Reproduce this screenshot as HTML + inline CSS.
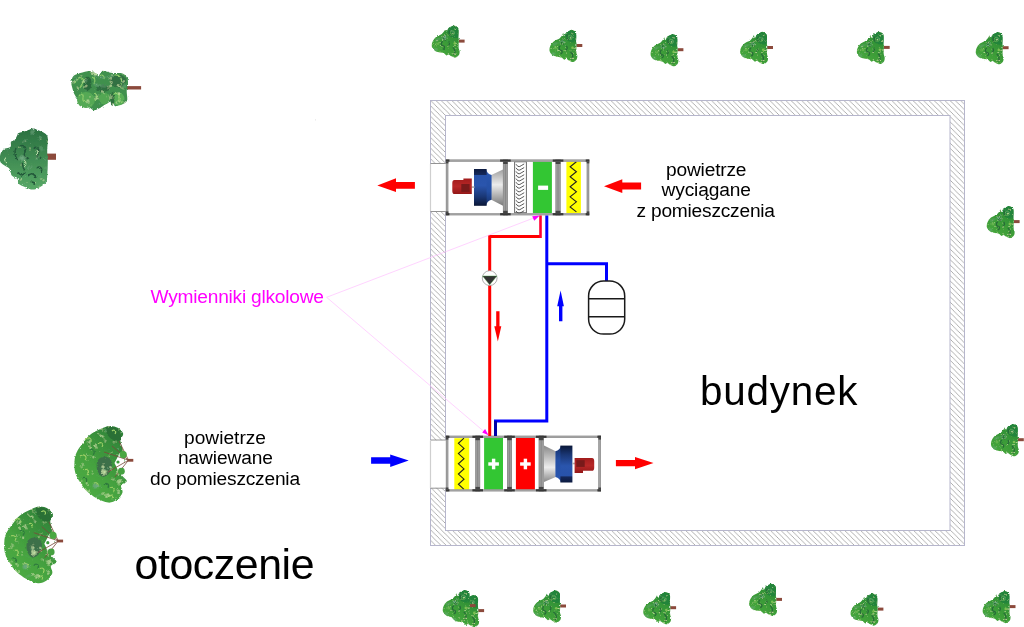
<!DOCTYPE html>
<html><head><meta charset="utf-8">
<style>
html,body{margin:0;padding:0;background:#fff;overflow:hidden;width:1024px;height:627px}
svg{display:block;opacity:0.999}
text{font-family:"Liberation Sans",sans-serif}
</style></head>
<body>
<domain style="display:none">Diagram</domain>
<svg width="1024" height="627" viewBox="0 0 1024 627">
<defs>
<pattern id="hatch" patternUnits="userSpaceOnUse" width="5.3" height="5.3" x="1.5" y="0">
<path d="M-1,-1 L6.3,6.3 M-1,4.3 L1,6.3 M4.3,-1 L6.3,1" stroke="#9c9c9c" stroke-width="0.8"/>
</pattern>
<linearGradient id="neck1" x1="0" y1="0" x2="0" y2="1"><stop offset="0" stop-color="#2a56b0"/><stop offset="0.6" stop-color="#2550a5"/><stop offset="1" stop-color="#15306a"/></linearGradient>
<linearGradient id="neck2" x1="0" y1="0" x2="0" y2="1"><stop offset="0" stop-color="#15306a"/><stop offset="0.4" stop-color="#2550a5"/><stop offset="1" stop-color="#2a56b0"/></linearGradient>
<linearGradient id="cone" x1="0" y1="0" x2="0" y2="1">
<stop offset="0" stop-color="#a0a0a0"/><stop offset="0.42" stop-color="#ececec"/><stop offset="1" stop-color="#7a7a7a"/>
</linearGradient>
<linearGradient id="cone2" x1="0" y1="0" x2="0" y2="1">
<stop offset="0" stop-color="#8a8a8a"/><stop offset="0.6" stop-color="#ececec"/><stop offset="1" stop-color="#8a8a8a"/>
</linearGradient>
<linearGradient id="fanblue" x1="0" y1="0" x2="0" y2="1">
<stop offset="0" stop-color="#0c1a40"/><stop offset="0.155" stop-color="#15295a"/><stop offset="0.175" stop-color="#2853aa"/><stop offset="0.45" stop-color="#2a55ad"/><stop offset="0.75" stop-color="#1a3775"/><stop offset="1" stop-color="#0a1737"/>
</linearGradient>
<linearGradient id="fanblue2" x1="0" y1="0" x2="0" y2="1">
<stop offset="0" stop-color="#0a1737"/><stop offset="0.25" stop-color="#1a3775"/><stop offset="0.55" stop-color="#2a55ad"/><stop offset="0.825" stop-color="#2853aa"/><stop offset="0.845" stop-color="#15295a"/><stop offset="1" stop-color="#0c1a40"/>
</linearGradient>
<linearGradient id="motor" x1="0" y1="0" x2="0" y2="1">
<stop offset="0" stop-color="#a11c1c"/><stop offset="0.5" stop-color="#b82828"/><stop offset="1" stop-color="#941818"/>
</linearGradient>
<filter id="rough" x="-15%" y="-15%" width="130%" height="130%">
 <feTurbulence type="turbulence" baseFrequency="0.13" numOctaves="2" seed="7" result="n"/>
 <feColorMatrix in="n" type="matrix" values="0 0 0 0 0.62  0 0 0 0 0.83  0 0 0 0 0.42  2.6 0 0 0 -0.95" result="hl"/>
 <feComposite in="hl" in2="SourceAlpha" operator="in" result="hl2"/>
 <feTurbulence type="turbulence" baseFrequency="0.11" numOctaves="1" seed="11" result="m"/>
 <feColorMatrix in="m" type="matrix" values="0 0 0 0 0.16  0 0 0 0 0.40  0 0 0 0 0.22  3 0 0 0 -1.1" result="dk"/>
 <feComposite in="dk" in2="SourceAlpha" operator="in" result="dk2"/>
 <feMerge result="mg"><feMergeNode in="SourceGraphic"/><feMergeNode in="dk2"/><feMergeNode in="hl2"/></feMerge>
 <feTurbulence type="fractalNoise" baseFrequency="0.7" numOctaves="2" seed="4" result="n2"/>
 <feDisplacementMap in="mg" in2="n2" scale="2.6" xChannelSelector="R" yChannelSelector="G"/>
</filter>
<filter id="rough3" x="-15%" y="-15%" width="130%" height="130%">
 <feTurbulence type="turbulence" baseFrequency="0.4" numOctaves="2" seed="5" result="n"/>
 <feColorMatrix in="n" type="matrix" values="0 0 0 0 0.56  0 0 0 0 0.78  0 0 0 0 0.34  2.4 0 0 0 -0.98" result="hl"/>
 <feComposite in="hl" in2="SourceAlpha" operator="in" result="hl2"/>
 <feTurbulence type="turbulence" baseFrequency="0.11" numOctaves="1" seed="11" result="m"/>
 <feColorMatrix in="m" type="matrix" values="0 0 0 0 0.16  0 0 0 0 0.40  0 0 0 0 0.22  3 0 0 0 -1.1" result="dk"/>
 <feComposite in="dk" in2="SourceAlpha" operator="in" result="dk2"/>
 <feMerge result="mg"><feMergeNode in="SourceGraphic"/><feMergeNode in="dk2"/><feMergeNode in="hl2"/></feMerge>
 <feTurbulence type="fractalNoise" baseFrequency="0.7" numOctaves="2" seed="4" result="n2"/>
 <feDisplacementMap in="mg" in2="n2" scale="2.2" xChannelSelector="R" yChannelSelector="G"/>
</filter>
<filter id="rough2" x="-15%" y="-15%" width="130%" height="130%">
 <feTurbulence type="turbulence" baseFrequency="0.13" numOctaves="2" seed="9" result="n"/>
 <feColorMatrix in="n" type="matrix" values="0 0 0 0 0.62  0 0 0 0 0.83  0 0 0 0 0.42  2.2 0 0 0 -1.05" result="hl"/>
 <feComposite in="hl" in2="SourceAlpha" operator="in" result="hl2"/>
 <feTurbulence type="turbulence" baseFrequency="0.11" numOctaves="1" seed="11" result="m"/>
 <feColorMatrix in="m" type="matrix" values="0 0 0 0 0.16  0 0 0 0 0.40  0 0 0 0 0.22  3 0 0 0 -1.1" result="dk"/>
 <feComposite in="dk" in2="SourceAlpha" operator="in" result="dk2"/>
 <feMerge result="mg"><feMergeNode in="SourceGraphic"/><feMergeNode in="dk2"/><feMergeNode in="hl2"/></feMerge>
 <feTurbulence type="fractalNoise" baseFrequency="0.7" numOctaves="2" seed="4" result="n2"/>
 <feDisplacementMap in="mg" in2="n2" scale="2.6" xChannelSelector="R" yChannelSelector="G"/>
</filter>
<linearGradient id="gS" x1="0.8" y1="0" x2="0.2" y2="1"><stop offset="0" stop-color="#2a8a34"/><stop offset="1" stop-color="#4aaa3c"/></linearGradient>
</defs>

<defs><g id="treeS">
<rect x="27" y="14.2" width="5.8" height="3" fill="#8c4a3c"/>
<g filter="url(#rough3)"><path d="M22.00,0.00 C23.07,0.00 24.70,0.92 25.50,1.60 C26.30,2.28 26.63,2.50 26.80,4.10 C26.97,5.70 26.45,9.48 26.50,11.20 C26.55,12.92 27.05,12.60 27.10,14.40 C27.15,16.20 26.68,20.10 26.80,22.00 C26.92,23.90 27.75,24.52 27.80,25.80 C27.85,27.08 27.80,28.63 27.10,29.70 C26.40,30.77 24.82,32.00 23.60,32.20 C22.38,32.40 20.97,31.43 19.80,30.90 C18.63,30.37 17.45,29.15 16.60,29.00 C15.75,28.85 15.45,30.20 14.70,30.00 C13.95,29.80 13.17,28.28 12.10,27.80 C11.03,27.32 9.68,27.43 8.30,27.10 C6.92,26.77 5.08,26.53 3.80,25.80 C2.52,25.07 1.23,23.83 0.60,22.70 C-0.03,21.57 -0.15,20.32 0.00,19.00 C0.15,17.68 0.80,16.03 1.50,14.80 C2.20,13.57 3.25,12.40 4.20,11.60 C5.15,10.80 6.23,10.50 7.20,10.00 C8.17,9.50 9.12,9.33 10.00,8.60 C10.88,7.87 11.88,6.45 12.50,5.60 C13.12,4.75 13.33,3.40 13.70,3.50 C14.07,3.60 14.22,6.30 14.70,6.20 C15.18,6.10 15.87,3.67 16.60,2.90 C17.33,2.13 18.20,2.08 19.10,1.60 C20.00,1.12 20.93,0.00 22.00,0.00 Z" fill="url(#gS)"/>
<path d="M16.4,3.4 C18,1 22,-0.2 25,1.4 C27,3 26.8,8 26.5,12 C24,13.5 20,12.5 17.5,10 C16,8 15.5,5.5 16.4,3.4 Z" fill="#23843a"/>
<circle cx="20.5" cy="7.5" r="2.2" fill="none" stroke="#58a850" stroke-width="1"/>
<path d="M13,10 C11,12 12,14 14,15 M11,16 C9,17 9,20 11.5,20.5 C13.5,21 13,23.5 11,24 M21,22 C23,24 24,27 22,29.5 M18,5 C17,7 17.5,9 19,10 M17,16 C18.5,18 17.5,20 16,20" fill="none" stroke="#286a38" stroke-width="1.2"/>
<circle cx="6" cy="18" r="1.6" fill="#62b24c"/>
<circle cx="23" cy="18" r="1.3" fill="#7cc052"/>
</g></g></defs>
<use href="#treeS" x="431.8" y="25.4"/>
<use href="#treeS" x="549.5" y="29.8"/>
<use href="#treeS" x="650.6" y="34.0"/>
<use href="#treeS" x="740.2" y="31.8"/>
<use href="#treeS" x="856.9" y="31.7"/>
<use href="#treeS" x="975.8" y="32.0"/>
<use href="#treeS" x="986.8" y="205.9"/>
<use href="#treeS" x="991.0" y="424.0"/>
<use href="#treeS" x="451.3" y="594.9"/>
<use href="#treeS" x="442.8" y="589.9"/>
<use href="#treeS" x="533.2" y="590.3"/>
<use href="#treeS" x="643.3" y="592.0"/>
<use href="#treeS" x="749.2" y="583.7"/>
<use href="#treeS" x="850.6" y="593.4"/>
<use href="#treeS" x="982.7" y="590.9"/>
<rect x="127.00" y="86.10" width="14.10" height="3.40" fill="#8c4a3c" />
<g filter="url(#rough)">
<path d="M71.30,82.30 C71.52,80.40 72.02,77.55 73.50,76.00 C74.98,74.45 77.53,73.85 80.20,73.00 C82.87,72.15 86.97,70.90 89.50,70.90 C92.03,70.90 93.85,72.30 95.40,73.00 C96.95,73.70 97.67,75.45 98.80,75.10 C99.93,74.75 100.78,71.47 102.20,70.90 C103.62,70.33 105.60,71.35 107.30,71.70 C109.00,72.05 109.87,72.72 112.40,73.00 C114.93,73.28 120.03,72.55 122.50,73.40 C124.97,74.25 126.28,76.20 127.20,78.10 C128.12,80.00 128.08,82.68 128.00,84.80 C127.92,86.92 126.83,88.27 126.70,90.80 C126.57,93.33 127.62,97.90 127.20,100.00 C126.78,102.10 125.55,102.55 124.20,103.40 C122.85,104.25 120.65,104.67 119.10,105.10 C117.55,105.53 116.02,106.70 114.90,106.00 C113.78,105.30 113.95,101.18 112.40,100.90 C110.85,100.62 107.58,103.17 105.60,104.30 C103.62,105.43 102.47,106.72 100.50,107.70 C98.53,108.68 95.77,110.35 93.80,110.20 C91.83,110.05 90.68,107.93 88.70,106.80 C86.72,105.67 83.73,104.67 81.90,103.40 C80.07,102.13 78.97,100.75 77.70,99.20 C76.43,97.65 75.22,96.07 74.30,94.10 C73.38,92.13 72.70,89.37 72.20,87.40 C71.70,85.43 71.08,84.20 71.30,82.30 Z" fill="#3f904d"/>
<ellipse cx="86" cy="100" rx="9" ry="8" fill="#55a955"/>
<ellipse cx="104" cy="98.5" rx="5.5" ry="6" fill="#52a753"/>
<ellipse cx="118.5" cy="99" rx="6" ry="6.5" fill="#58ae57"/>
<ellipse cx="87.5" cy="83.5" rx="4" ry="7" fill="#2b6b3c"/>
<ellipse cx="103" cy="88.5" rx="7" ry="3.2" fill="#2f6f3f"/>
<ellipse cx="118" cy="81" rx="8" ry="6.5" fill="#336f42"/>
<ellipse cx="112.5" cy="99" rx="2" ry="7" fill="#2f6e3e"/>
<path d="M75,84 C76,78 80,76 83,79 C85,82 81,84 80,88 M92,78 C94,75 96,79 94,84 M79,96 C81,93 84,94 83,98 C82,102 86,103 88,100 M95,93 C97,95 97,99 95,101 M114,75 C119,74 123,78 121,84 M114,94 C116,92 120,94 119,98 C118,102 121,104 123,101 M100,76 C102,74 105,76 104,79" fill="none" stroke="#8fcd6c" stroke-width="1.1"/>
</g>
<rect x="47.00" y="153.60" width="9.00" height="6.20" fill="#8c4a3c" />
<linearGradient id="gB" x1="0" y1="0" x2="0" y2="1"><stop offset="0" stop-color="#2a7040"/><stop offset="1" stop-color="#57a866"/></linearGradient>
<g filter="url(#rough2)">
<path d="M18.60,133.10 C20.15,132.42 24.47,131.48 26.80,130.70 C29.13,129.92 30.67,128.48 32.60,128.40 C34.53,128.32 36.27,129.32 38.40,130.20 C40.53,131.08 43.83,132.35 45.40,133.70 C46.97,135.05 47.50,135.40 47.80,138.30 C48.10,141.20 47.20,147.42 47.20,151.10 C47.20,154.78 47.80,156.12 47.80,160.40 C47.80,164.68 47.50,173.10 47.20,176.80 C46.90,180.50 47.27,180.87 46.00,182.60 C44.73,184.33 41.83,186.03 39.60,187.20 C37.37,188.37 34.93,189.60 32.60,189.60 C30.27,189.60 27.93,188.18 25.60,187.20 C23.27,186.22 19.95,185.05 18.60,183.70 C17.25,182.35 18.65,180.45 17.50,179.10 C16.35,177.75 13.07,177.35 11.70,175.60 C10.33,173.85 10.87,170.55 9.30,168.60 C7.73,166.65 3.85,165.27 2.30,163.90 C0.75,162.53 0.28,162.13 0.00,160.40 C-0.28,158.67 -0.18,155.43 0.60,153.50 C1.38,151.57 3.05,149.88 4.70,148.80 C6.35,147.72 9.43,148.17 10.50,147.00 C11.57,145.83 10.33,143.05 11.10,141.80 C11.87,140.55 14.03,140.67 15.10,139.50 C16.17,138.33 16.92,135.87 17.50,134.80 C18.08,133.73 17.05,133.78 18.60,133.10 Z" fill="url(#gB)"/>
<path d="M16,148 C14,152 15,158 18,160 M20,146 C24,144 27,148 25,152 C23,156 26,160 29,158 M34,148 C37,146 40,150 38,154 C36,158 39,160 41,157 M18,172 C20,176 24,176 25,172 M28,176 C31,172 35,174 36,178 M37,168 C40,165 43,169 41,172 M22,163 C24,166 22,169 25,170 M31,183 C33,181 35,183 34,185" fill="none" stroke="#23583a" stroke-width="1.5"/>
<path d="M5,157 C4,160 5,162 7,163 M24,160 C27,162 26,166 24,167 M37,150 C38,152 38,154 36,155" fill="none" stroke="#c8e8b0" stroke-width="1"/>
</g>
<defs><linearGradient id="gC" x1="0.9" y1="0" x2="0.2" y2="1"><stop offset="0" stop-color="#2c7c37"/><stop offset="0.6" stop-color="#45a23f"/><stop offset="1" stop-color="#4fae45"/></linearGradient><g id="treeC">
<rect x="127.5" y="458.9" width="5.8" height="2.8" fill="#8c4a3c"/>
<g filter="url(#rough)"><path d="M109.60,425.90 C112.47,425.77 115.93,426.68 118.20,428.00 C120.47,429.32 122.82,431.80 123.20,433.80 C123.58,435.80 120.70,437.80 120.50,440.00 C120.30,442.20 121.42,444.83 122.00,447.00 C122.58,449.17 123.50,450.83 124.00,453.00 C124.50,455.17 125.17,457.67 125.00,460.00 C124.83,462.33 123.67,464.67 123.00,467.00 C122.33,469.33 120.37,471.65 121.00,474.00 C121.63,476.35 126.78,479.20 126.80,481.10 C126.82,483.00 121.82,483.48 121.10,485.40 C120.38,487.32 123.22,490.20 122.50,492.60 C121.78,495.00 119.18,498.13 116.80,499.80 C114.42,501.47 111.55,502.85 108.20,502.60 C104.85,502.35 100.30,500.22 96.70,498.30 C93.10,496.38 89.35,493.73 86.60,491.10 C83.85,488.47 82.10,485.60 80.20,482.50 C78.30,479.40 76.15,476.08 75.20,472.50 C74.25,468.92 74.27,464.35 74.50,461.00 C74.73,457.65 75.30,455.27 76.60,452.40 C77.90,449.53 80.15,446.67 82.30,443.80 C84.45,440.93 86.38,437.70 89.50,435.20 C92.62,432.70 97.65,430.35 101.00,428.80 C104.35,427.25 106.73,426.03 109.60,425.90 Z" fill="url(#gC)"/>
<path d="M106,427 C114,425 122,430 121,439 C118,443 110,440 107,434 Z" fill="#2a7035"/>
<path d="M85,440 C88,436 92,438 91,442 M80,456 C84,453 88,457 85,460 M84,470 C88,468 90,472 87,475 M93,484 C96,481 100,484 97,488 M110,488 C113,486 116,489 113,492 M98,444 C101,441 104,444 102,447 M109,496 C112,494 114,497 112,499 M112,431 C114,429 117,431 115,434" fill="none" stroke="#9ccf66" stroke-width="1.1"/>
<path d="M90,450 C93,448 96,452 93,455 M104,485 C106,482 110,484 108,488 M82,478 C85,476 88,479 86,482" fill="none" stroke="#2e7a3e" stroke-width="1.2"/>
<path d="M98,460 C102,455 110,456 112,462 C113,469 109,476 103,477 C97,475 95,465 98,460 Z" fill="#3d7049"/>
</g>
<path d="M114.5,463 L120,452.5 L124.5,456 L124.5,467 L120,474 Z" fill="#fff"/>
<path d="M104,452 L128.5,460.2 M112,446 L128.5,460.2 M119,441 L128.5,460.2 M108,472 L128.5,460.2 M115,477 L128.5,460.2" stroke="#7a4a3a" stroke-width="0.8"/>
<circle cx="123.2" cy="454.6" r="3.6" fill="#4aa842"/>
<circle cx="121.4" cy="471.2" r="3.4" fill="#45a040"/>
<circle cx="118" cy="462" r="1.6" fill="#3f9a3c"/>
</g></defs>
<use href="#treeC" x="0" y="0"/>
<use href="#treeC" x="-70.2" y="80.7"/>
<path d="M430.5,100.5 H964.5 V545.5 H430.5 Z M445.5,115.5 V530.5 H950 V115.5 Z" fill="url(#hatch)" fill-rule="evenodd"/>
<rect x="430.5" y="100.5" width="534" height="445" fill="none" stroke="#b6b6cc" stroke-width="1"/>
<rect x="445.5" y="115.5" width="504.5" height="415" fill="none" stroke="#b6b6cc" stroke-width="1"/>
<rect x="429.80" y="163.80" width="16.20" height="47.40" fill="#fff" />
<rect x="429.80" y="440.20" width="16.20" height="47.60" fill="#fff" />
<path d="M430.5,163.5 H446 M430.5,211.5 H446 M430.5,440 H446 M430.5,488.2 H446" stroke="#888" stroke-width="0.9"/>
<path d="M430.5,164 V211 M430.5,440.5 V488" stroke="#cfcfcf" stroke-width="1.2"/>
<rect x="445.80" y="159.40" width="143.50" height="56.00" fill="#fff" />
<rect x="514.60" y="161.80" width="11.80" height="50.90" fill="#fff" stroke="#6a6a6a" stroke-width="1"/>
<path d="M516,164.20 Q517.8,167.50 519.8,166.50 Q521.6,165.40 524.2,163.90 M516,167.80 Q517.8,171.10 519.8,170.10 Q521.6,169.00 524.2,167.50 M516,171.40 Q517.8,174.70 519.8,173.70 Q521.6,172.60 524.2,171.10 M516,175.00 Q517.8,178.30 519.8,177.30 Q521.6,176.20 524.2,174.70 M516,178.60 Q517.8,181.90 519.8,180.90 Q521.6,179.80 524.2,178.30 M516,182.20 Q517.8,185.50 519.8,184.50 Q521.6,183.40 524.2,181.90 M516,185.80 Q517.8,189.10 519.8,188.10 Q521.6,187.00 524.2,185.50 M516,189.40 Q517.8,192.70 519.8,191.70 Q521.6,190.60 524.2,189.10 M516,193.00 Q517.8,196.30 519.8,195.30 Q521.6,194.20 524.2,192.70 M516,196.60 Q517.8,199.90 519.8,198.90 Q521.6,197.80 524.2,196.30 M516,200.20 Q517.8,203.50 519.8,202.50 Q521.6,201.40 524.2,199.90 M516,203.80 Q517.8,207.10 519.8,206.10 Q521.6,205.00 524.2,203.50 M516,207.40 Q517.8,210.70 519.8,209.70 Q521.6,208.60 524.2,207.10 M516,211.00 Q517.8,214.30 519.8,213.30 Q521.6,212.20 524.2,210.70" fill="none" stroke="#3a3a3a" stroke-width="0.85"/>
<rect x="532.90" y="161.70" width="19.00" height="51.40" fill="#33c633" />
<rect x="538.10" y="185.60" width="10.00" height="4.30" fill="#fff" />
<rect x="566.40" y="161.70" width="14.50" height="51.40" fill="#ffff00" />
<polyline points="576.40,161.70 570.10,166.72 576.40,171.74 570.10,176.76 576.40,181.78 570.10,186.80 576.40,191.82 570.10,196.84 576.40,201.86 570.10,206.88 576.40,211.90" fill="none" stroke="#222" stroke-width="1.1" stroke-linejoin="miter"/>
<path d="M491.3,175 L503,169.5 L503,205.8 L491.3,199.7 Z" fill="url(#cone)"/>
<path d="M486,169 Q487,174 491.6,175 L491.6,199.7 Q487,200.8 486,205.8 Z" fill="url(#neck1)"/>
<rect x="474.00" y="169.00" width="12.60" height="36.80" fill="url(#fanblue)" />
<rect x="471.50" y="186.30" width="3.00" height="1.60" fill="#aaaaaa" />
<path d="M454.5,180.1 L463.4,180.1 L463.4,178.4 L471.8,178.4 L471.8,194.1 L454.5,194.1 Q452.3,194.1 452.3,191 L452.3,183.2 Q452.3,180.1 454.5,180.1 Z" fill="url(#motor)"/>
<rect x="461.30" y="184.00" width="8.30" height="7.90" fill="#781a1a" />
<rect x="445.80" y="159.40" width="143.50" height="2.40" fill="#919191" />
<rect x="445.80" y="160.24" width="143.50" height="0.72" fill="#aaaaaa" />
<rect x="445.80" y="213.20" width="143.50" height="2.20" fill="#919191" />
<rect x="445.80" y="213.97" width="143.50" height="0.66" fill="#aaaaaa" />
<rect x="445.80" y="159.40" width="2.60" height="56.00" fill="#919191" />
<rect x="446.71" y="159.40" width="0.78" height="56.00" fill="#aaaaaa" />
<rect x="586.60" y="159.40" width="2.70" height="56.00" fill="#919191" />
<rect x="587.55" y="159.40" width="0.81" height="56.00" fill="#aaaaaa" />
<rect x="502.90" y="159.40" width="5.00" height="56.00" fill="#858585" />
<rect x="503.40" y="159.40" width="1.60" height="56.00" fill="#9c9c9c" />
<rect x="505.80" y="159.40" width="1.60" height="56.00" fill="#9c9c9c" />
<rect x="555.40" y="159.40" width="5.30" height="56.00" fill="#858585" />
<rect x="555.90" y="159.40" width="1.75" height="56.00" fill="#9c9c9c" />
<rect x="558.45" y="159.40" width="1.75" height="56.00" fill="#9c9c9c" />
<rect x="445.80" y="159.50" width="3.60" height="2.20" fill="#383838" />
<rect x="445.80" y="161.60" width="2.60" height="1.80" fill="#444" />
<rect x="445.80" y="213.10" width="3.60" height="2.20" fill="#383838" />
<rect x="445.80" y="211.40" width="2.60" height="1.80" fill="#444" />
<rect x="585.70" y="159.50" width="3.60" height="2.20" fill="#383838" />
<rect x="586.70" y="161.60" width="2.60" height="1.80" fill="#444" />
<rect x="585.70" y="213.10" width="3.60" height="2.20" fill="#383838" />
<rect x="586.70" y="211.40" width="2.60" height="1.80" fill="#444" />
<rect x="500.10" y="159.50" width="10.60" height="2.20" fill="#383838" />
<rect x="503.20" y="161.60" width="4.40" height="2.40" fill="#444" />
<rect x="500.10" y="213.10" width="10.60" height="2.20" fill="#383838" />
<rect x="503.20" y="210.80" width="4.40" height="2.40" fill="#444" />
<rect x="552.75" y="159.50" width="10.60" height="2.20" fill="#383838" />
<rect x="555.70" y="161.60" width="4.70" height="2.40" fill="#444" />
<rect x="552.75" y="213.10" width="10.60" height="2.20" fill="#383838" />
<rect x="555.70" y="210.80" width="4.70" height="2.40" fill="#444" />
<rect x="445.80" y="435.60" width="155.00" height="55.90" fill="#fff" />
<rect x="454.30" y="438.20" width="14.90" height="51.50" fill="#ffff00" />
<polyline points="464.00,438.20 458.40,443.32 464.00,448.44 458.40,453.56 464.00,458.68 458.40,463.80 464.00,468.92 458.40,474.04 464.00,479.16 458.40,484.28 464.00,489.40" fill="none" stroke="#222" stroke-width="1.1" stroke-linejoin="miter"/>
<rect x="484.10" y="438.00" width="18.90" height="51.70" fill="#33c633" />
<rect x="488.30" y="462.30" width="10.60" height="3.40" fill="#fff" />
<rect x="491.90" y="458.70" width="3.40" height="10.60" fill="#fff" />
<rect x="515.90" y="438.00" width="19.00" height="51.70" fill="#ff0000" />
<rect x="520.10" y="462.30" width="10.60" height="3.40" fill="#fff" />
<rect x="523.70" y="458.70" width="3.40" height="10.60" fill="#fff" />
<path d="M544,445.6 L555.7,451.2 L555.7,476.9 L544,481.9 Z" fill="url(#cone2)"/>
<path d="M561,445.6 Q560,450.2 555.4,451.2 L555.4,476.9 Q560,478 561,482.5 Z" fill="url(#neck2)"/>
<rect x="560.40" y="445.60" width="12.00" height="36.90" fill="url(#fanblue2)" />
<rect x="572.20" y="462.70" width="3.00" height="1.60" fill="#aaaaaa" />
<path d="M574.6,457.9 L592,457.9 Q594.2,457.9 594.2,461 L594.2,467.7 Q594.2,470.8 592,470.8 L583,470.8 L583,473 L574.6,473 Z" fill="url(#motor)"/>
<rect x="576.30" y="460.20" width="8.40" height="6.70" fill="#781a1a" />
<rect x="445.80" y="435.60" width="155.20" height="2.30" fill="#919191" />
<rect x="445.80" y="436.41" width="155.20" height="0.69" fill="#aaaaaa" />
<rect x="445.80" y="489.30" width="155.20" height="2.20" fill="#919191" />
<rect x="445.80" y="490.07" width="155.20" height="0.66" fill="#aaaaaa" />
<rect x="445.80" y="435.60" width="2.60" height="55.90" fill="#919191" />
<rect x="446.71" y="435.60" width="0.78" height="55.90" fill="#aaaaaa" />
<rect x="598.20" y="435.60" width="2.70" height="55.90" fill="#919191" />
<rect x="599.15" y="435.60" width="0.81" height="55.90" fill="#aaaaaa" />
<rect x="475.20" y="435.60" width="5.00" height="55.90" fill="#858585" />
<rect x="475.70" y="435.60" width="1.60" height="55.90" fill="#9c9c9c" />
<rect x="478.10" y="435.60" width="1.60" height="55.90" fill="#9c9c9c" />
<rect x="507.00" y="435.60" width="5.00" height="55.90" fill="#858585" />
<rect x="507.50" y="435.60" width="1.60" height="55.90" fill="#9c9c9c" />
<rect x="509.90" y="435.60" width="1.60" height="55.90" fill="#9c9c9c" />
<rect x="538.60" y="435.60" width="5.20" height="55.90" fill="#858585" />
<rect x="539.10" y="435.60" width="1.70" height="55.90" fill="#9c9c9c" />
<rect x="541.60" y="435.60" width="1.70" height="55.90" fill="#9c9c9c" />
<rect x="445.80" y="435.70" width="3.60" height="2.20" fill="#383838" />
<rect x="445.80" y="437.80" width="2.60" height="1.80" fill="#444" />
<rect x="445.80" y="489.20" width="3.60" height="2.20" fill="#383838" />
<rect x="445.80" y="487.50" width="2.60" height="1.80" fill="#444" />
<rect x="597.40" y="435.70" width="3.60" height="2.20" fill="#383838" />
<rect x="598.40" y="437.80" width="2.60" height="1.80" fill="#444" />
<rect x="597.40" y="489.20" width="3.60" height="2.20" fill="#383838" />
<rect x="598.40" y="487.50" width="2.60" height="1.80" fill="#444" />
<rect x="472.40" y="435.70" width="10.60" height="2.20" fill="#383838" />
<rect x="475.50" y="437.80" width="4.40" height="2.40" fill="#444" />
<rect x="472.40" y="489.20" width="10.60" height="2.20" fill="#383838" />
<rect x="475.50" y="486.90" width="4.40" height="2.40" fill="#444" />
<rect x="504.20" y="435.70" width="10.60" height="2.20" fill="#383838" />
<rect x="507.30" y="437.80" width="4.40" height="2.40" fill="#444" />
<rect x="504.20" y="489.20" width="10.60" height="2.20" fill="#383838" />
<rect x="507.30" y="486.90" width="4.40" height="2.40" fill="#444" />
<rect x="535.90" y="435.70" width="10.60" height="2.20" fill="#383838" />
<rect x="538.90" y="437.80" width="4.60" height="2.40" fill="#444" />
<rect x="535.90" y="489.20" width="10.60" height="2.20" fill="#383838" />
<rect x="538.90" y="486.90" width="4.60" height="2.40" fill="#444" />
<path d="M540.5,236.5 H489.7 V436" fill="none" stroke="#ff0000" stroke-width="3" stroke-linejoin="miter"/>
<path d="M540.5,215.5 V238" fill="none" stroke="#ff0030" stroke-width="2.6"/>
<path d="M546.8,215.5 V421 H495.5 V436" fill="none" stroke="#0000ff" stroke-width="3"/>
<path d="M495.5,421 V436" stroke="#0000a8" stroke-width="3"/>
<path d="M546.8,263.8 H606.5 V281" fill="none" stroke="#0000ff" stroke-width="3"/>
<rect x="588.6" y="281" width="36.1" height="53.1" rx="15" ry="15" fill="#fff" stroke="#1a1a1a" stroke-width="1.5"/>
<path d="M588.6,298.8 H624.7 M588.6,316.7 H624.7" stroke="#1a1a1a" stroke-width="1.5"/>
<circle cx="489.7" cy="278.1" r="7.4" fill="#fff" stroke="#9a9a9a" stroke-width="0.8"/>
<path d="M482.6,276 L496.9,276 L489.7,284.8 Z" fill="#333" stroke="#3a9a3a" stroke-width="0.4"/>
<path d="M496.2,311.3 H499.5 V326.3 H501.3 L497.85,341.4 L494.3,326.3 H496.2 Z" fill="#ff0000"/>
<path d="M560.6,290.6 L563.9,306.2 H562.4 V321.3 H559 V306.2 H557.2 Z" fill="#0000ff"/>
<path d="M414.9,181.9 H396 V178.3 L377.3,185.5 L396,192.1 V188.7 H414.9 Z" fill="#ff0000"/>
<path d="M641.1,182.6 H622.3 V179.2 L604,186.2 L622.3,192.9 V189.6 H641.1 Z" fill="#ff0000"/>
<path d="M371.1,457.2 H390.2 V454.4 L408.7,460.6 L390.2,466.9 V463.7 H371.1 Z" fill="#0000ff"/>
<path d="M615.9,460 H635 V456.9 L653.5,463.1 L635,469.3 V466.2 H615.9 Z" fill="#ff0000"/>
<path d="M326.6,297.3 L535,217.5 M326.6,297.3 L484,431.5" stroke="#ffc0ff" stroke-width="0.7" fill="none"/>
<path d="M539.8,215.5 L532.2,216.3 L534.2,220.7 Z" fill="#ff00ff"/>
<path d="M488.6,435.3 L482.2,432.5 L485.1,429.1 Z" fill="#ff00ff"/>
<rect x="315.00" y="119.00" width="1.00" height="1.60" fill="#ececec" />
<text transform="translate(666.00,175.7) scale(1.02,1)" x="0" y="0" font-size="18.8" textLength="78.96" lengthAdjust="spacing" fill="#000">powietrze</text>
<text transform="translate(661.50,196.4) scale(1.02,1)" x="0" y="0" font-size="18.8" textLength="87.78" lengthAdjust="spacing" fill="#000">wyciągane</text>
<text transform="translate(636.50,217.3) scale(1.02,1)" x="0" y="0" font-size="18.8" textLength="135.82" lengthAdjust="spacing" fill="#000">z pomieszczenia</text>
<text transform="translate(184.00,443.8) scale(1.02,1)" x="0" y="0" font-size="18.8" textLength="80.43" lengthAdjust="spacing" fill="#000">powietrze</text>
<text transform="translate(178.00,464.3) scale(1.02,1)" x="0" y="0" font-size="18.8" textLength="93.18" lengthAdjust="spacing" fill="#000">nawiewane</text>
<text transform="translate(150.00,485.1) scale(1.02,1)" x="0" y="0" font-size="18.8" textLength="147.10" lengthAdjust="spacing" fill="#000">do pomieszczenia</text>
<text transform="translate(150.50,303.4) scale(1.02,1)" x="0" y="0" font-size="18.8" textLength="170.14" lengthAdjust="spacing" fill="#ff00ff">Wymienniki glkolowe</text>
<text transform="translate(700.00,405.1) scale(1.0,1)" x="0" y="0" font-size="40.4" textLength="157.50" lengthAdjust="spacing" fill="#000">budynek</text>
<text transform="translate(134.50,578.8) scale(1.02,1)" x="0" y="0" font-size="42.0" textLength="176.51" lengthAdjust="spacing" fill="#000">otoczenie</text>
</svg>
</body></html>
